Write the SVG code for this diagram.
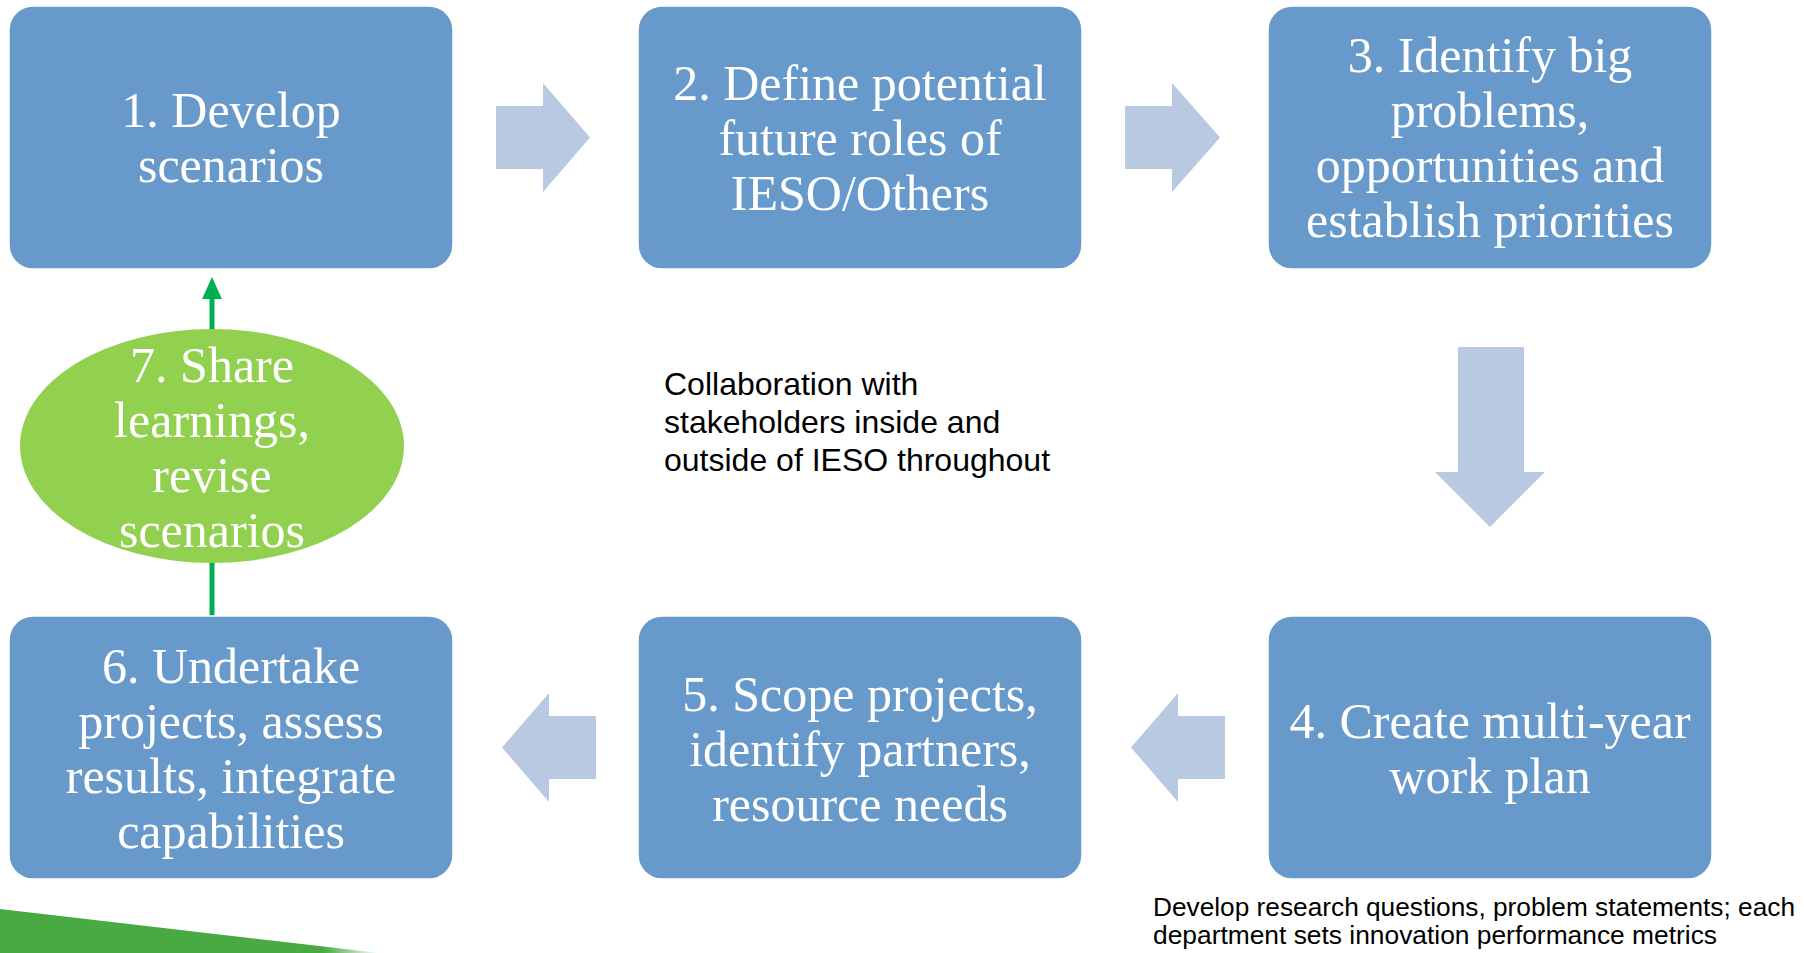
<svg xmlns="http://www.w3.org/2000/svg" width="1804" height="953" viewBox="0 0 1804 953">
  <style>
    .box { fill: #6799CB; stroke: #FFFFFF; stroke-width: 1.5; }
    .step { fill: #FFFFFF; font-family: "Liberation Serif", "Times New Roman", serif; font-size: 50px; text-anchor: middle; }
    .flow { fill: #B8C9E1; }
    .note { fill: #000000; font-family: "Liberation Sans", Arial, sans-serif; }
    .loop { stroke: #00B050; stroke-width: 5; fill: none; }
  </style>
  <defs>
    <marker id="loopHead" viewBox="0 0 22 20" refX="0" refY="10" markerWidth="22" markerHeight="20" markerUnits="userSpaceOnUse" orient="auto">
      <path d="M0,0 L22,10 L0,20 Z" fill="#00B050"/>
    </marker>
    <linearGradient id="bandFade" x1="0" y1="0" x2="1" y2="0">
      <stop offset="0" stop-color="#49A942"/>
      <stop offset="0.85" stop-color="#49A942"/>
      <stop offset="1" stop-color="#49A942" stop-opacity="0"/>
    </linearGradient>
  </defs>

  <!-- decorative green band, lower left corner -->
  <polygon points="0,909 380,953 0,953" fill="url(#bandFade)"/>

  <!-- connectors -->
  <g id="connectors">
    <!-- block arrows between steps -->
    <polygon class="flow" points="496,106 543,106 543,83 590,137.5 543,192 543,169 496,169"/>
    <polygon class="flow" points="1125,106 1172,106 1172,83 1220,137.5 1172,192 1172,169 1125,169"/>
    <polygon class="flow" points="1458,347 1524,347 1524,472 1545,472 1490,527 1435,472 1458,472"/>
    <polygon class="flow" points="1225,716 1178,716 1178,693 1131,747.5 1178,802 1178,779 1225,779"/>
    <polygon class="flow" points="596,716 549,716 549,693 502,747.5 549,802 549,779 596,779"/>
    <!-- feedback loop from step 6 back to step 1 -->
    <line class="loop" x1="212" y1="616" x2="212" y2="299" marker-end="url(#loopHead)"/>
  </g>

  <g id="step1">
    <rect class="box" x="9" y="6" width="444" height="263" rx="24"/>
    <text class="step"><tspan x="231" y="127">1. Develop</tspan><tspan x="231" y="182">scenarios</tspan></text>
  </g>

  <g id="step2">
    <rect class="box" x="638" y="6" width="444" height="263" rx="24"/>
    <text class="step"><tspan x="860" y="100">2. Define potential</tspan><tspan x="860" y="155">future roles of</tspan><tspan x="860" y="210">IESO/Others</tspan></text>
  </g>

  <g id="step3">
    <rect class="box" x="1268" y="6" width="444" height="263" rx="24"/>
    <text class="step"><tspan x="1490" y="72">3. Identify big</tspan><tspan x="1490" y="127">problems,</tspan><tspan x="1490" y="182">opportunities and</tspan><tspan x="1490" y="237">establish priorities</tspan></text>
  </g>

  <g id="step4">
    <rect class="box" x="1268" y="616" width="444" height="263" rx="24"/>
    <text class="step"><tspan x="1490" y="738">4. Create multi-year</tspan><tspan x="1490" y="793">work plan</tspan></text>
  </g>

  <g id="step5">
    <rect class="box" x="638" y="616" width="444" height="263" rx="24"/>
    <text class="step"><tspan x="860" y="711">5. Scope projects,</tspan><tspan x="860" y="766">identify partners,</tspan><tspan x="860" y="821">resource needs</tspan></text>
  </g>

  <g id="step6">
    <rect class="box" x="9" y="616" width="444" height="263" rx="24"/>
    <text class="step"><tspan x="231" y="683">6. Undertake</tspan><tspan x="231" y="738">projects, assess</tspan><tspan x="231" y="793">results, integrate</tspan><tspan x="231" y="848">capabilities</tspan></text>
  </g>

  <g id="step7">
    <ellipse cx="212" cy="446" rx="192" ry="117" fill="#92D050"/>
    <text class="step"><tspan x="212" y="382">7. Share</tspan><tspan x="212" y="437">learnings,</tspan><tspan x="212" y="492">revise</tspan><tspan x="212" y="547">scenarios</tspan></text>
  </g>

  <g id="collaboration-note">
    <text class="note" font-size="32"><tspan x="664" y="395">Collaboration with</tspan><tspan x="664" y="433">stakeholders inside and</tspan><tspan x="664" y="471">outside of IESO throughout</tspan></text>
  </g>

  <g id="workplan-note">
    <text class="note" font-size="25" x="1153" y="916" textLength="642" lengthAdjust="spacingAndGlyphs">Develop research questions, problem statements; each</text>
    <text class="note" font-size="25" x="1153" y="944" textLength="564" lengthAdjust="spacingAndGlyphs">department sets innovation performance metrics</text>
  </g>
</svg>
